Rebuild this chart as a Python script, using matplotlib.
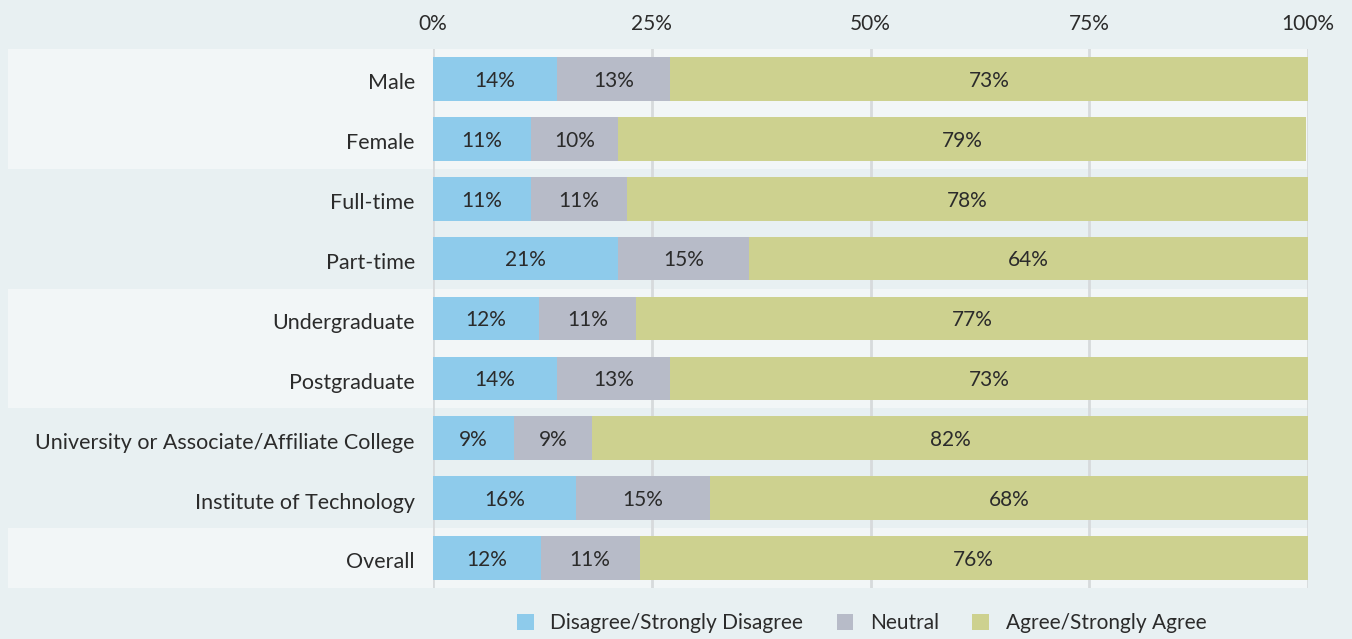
import numpy as np
import matplotlib.pyplot as plt
from matplotlib.patches import Rectangle
from matplotlib.transforms import blended_transform_factory

plt.rcParams['font.family'] = ['Lato', 'DejaVu Sans']

categories = ['Male', 'Female', 'Full-time', 'Part-time', 'Undergraduate',
              'Postgraduate', 'University or Associate/Affiliate College',
              'Institute of Technology', 'Overall']
disagree = [14.2, 11.2, 11.2, 21.1, 12.1, 14.2, 9.3, 16.3, 12.3]
neutral = [12.9, 9.9, 11.0, 15.0, 11.1, 12.9, 8.9, 15.4, 11.3]
agree = [72.9, 78.7, 77.8, 63.9, 76.9, 72.9, 81.8, 68.4, 76.4]
series_names = ['Disagree/Strongly Disagree', 'Neutral', 'Agree/Strongly Agree']
colors = ['#8ecbeb', '#b7bbc8', '#cdd18f']
ticks = [0, 25, 50, 75, 100]
tick_labels = ['0%', '25%', '50%', '75%', '100%']
banded_rows = [(0, 1), (4, 5), (8, 8)]

bg = '#e8f0f2'
band = '#f2f6f7'
text_col = '#2b2b2b'

fig = plt.figure(figsize=(13.52, 6.39), dpi=100, facecolor=bg)
ax = fig.add_axes([0.3203, 0.0798, 0.6472, 0.8435])
ax.set_facecolor('none')

y = np.arange(len(categories))

# light bands behind row groups, reaching out under the labels
trans = blended_transform_factory(ax.transAxes, ax.transData)
for a, b in banded_rows:
    ax.add_patch(Rectangle((-0.4857, a - 0.5), 1.4857, b - a + 1, transform=trans,
                           facecolor=band, edgecolor='none', zorder=0, clip_on=False))

for t in ticks:
    ax.axvline(t, color='#d7dadc', linewidth=2, zorder=1)

left = np.zeros(len(categories))
for vals, name, c in zip([disagree, neutral, agree], series_names, colors):
    vals = np.array(vals)
    ax.barh(y, vals, left=left, height=0.73, color=c, label=name, zorder=2)
    for yi, l, v in zip(y, left, vals):
        ax.text(l + v / 2, yi + 0.03, f'{v:.0f}%', ha='center', va='center',
                fontsize=15, color=text_col, zorder=3)
    left += vals

ax.set_xlim(0, 100)
ax.set_ylim(len(categories) - 0.5, -0.5)
ax.set_yticks(y + 0.04)
ax.set_yticklabels(categories, fontsize=15.5, color=text_col)
ax.set_xticks(ticks)
ax.set_xticklabels(tick_labels, fontsize=15, color=text_col)
ax.xaxis.tick_top()
ax.tick_params(axis='both', length=0)
ax.tick_params(axis='x', pad=11)
ax.tick_params(axis='y', pad=13)
for s in ax.spines.values():
    s.set_visible(False)

ax.legend(loc='upper center', bbox_to_anchor=(0.49, -0.012), ncol=3, frameon=False,
          fontsize=15, handlelength=0.8, handleheight=0.8, columnspacing=1.6,
          handletextpad=0.8, labelcolor=text_col)

fig.savefig('out.png', dpi=100, facecolor=bg)
